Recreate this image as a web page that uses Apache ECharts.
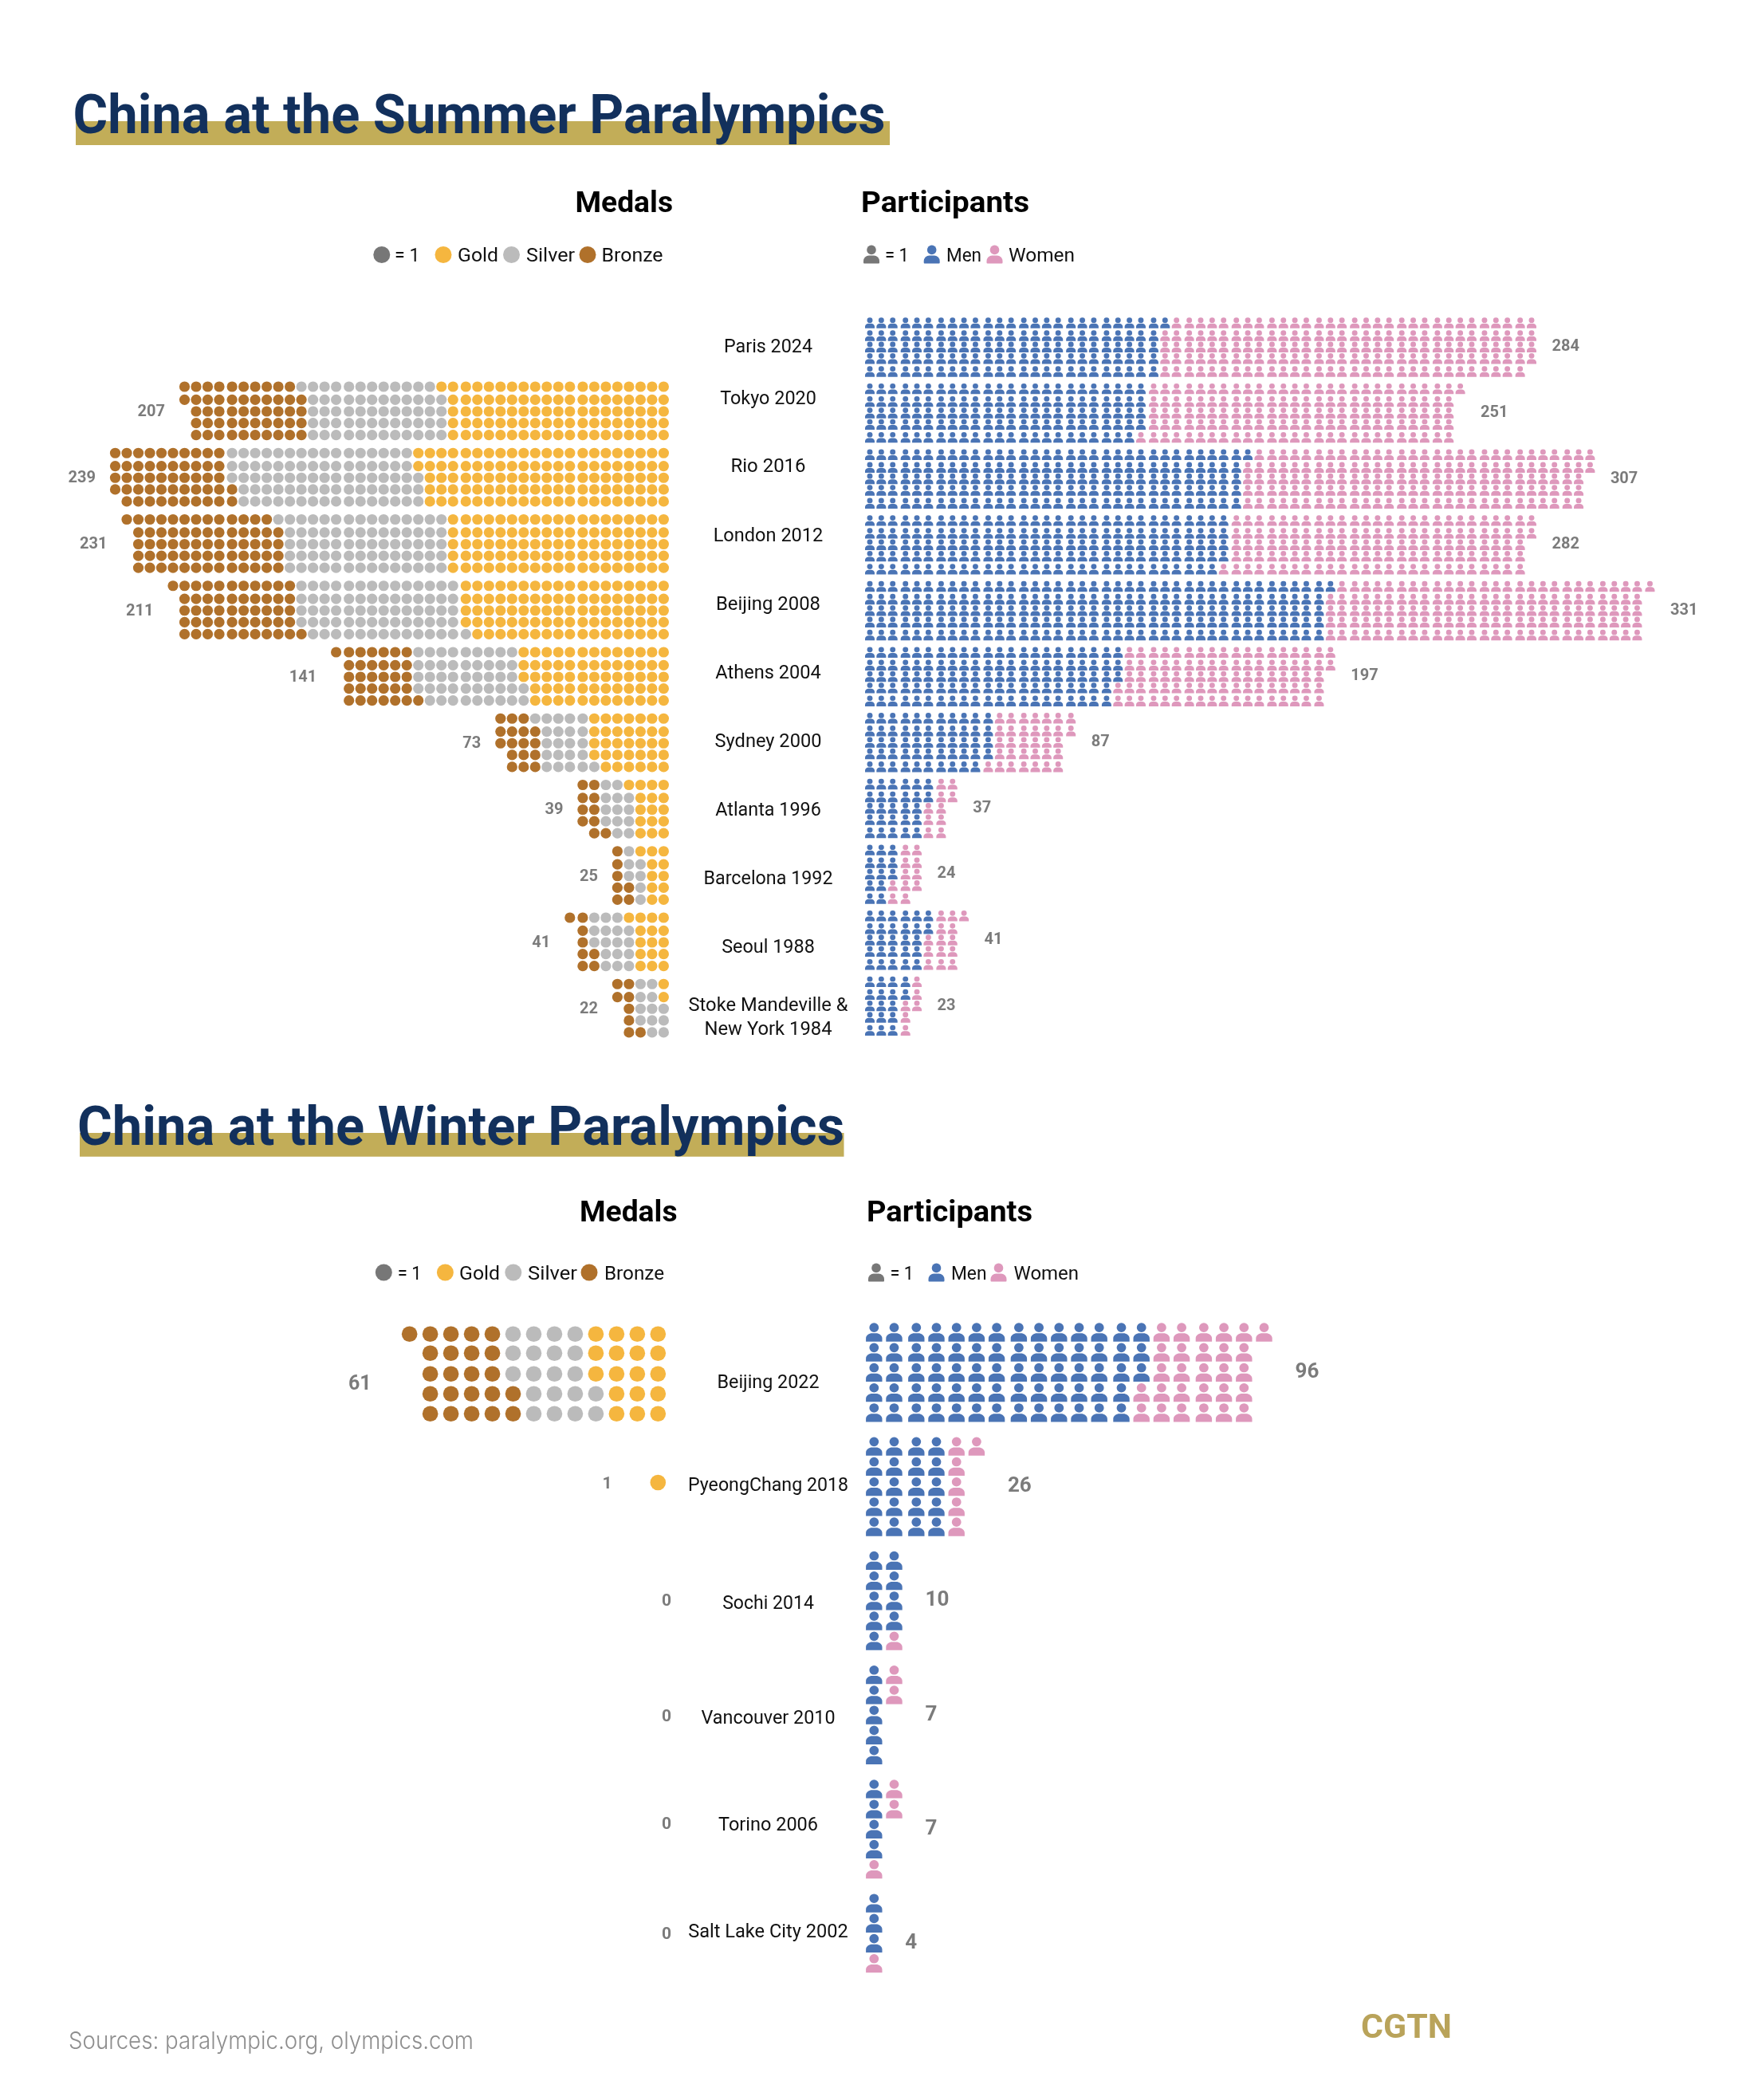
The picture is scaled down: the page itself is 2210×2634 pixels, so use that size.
<!DOCTYPE html>
<html><head><meta charset="utf-8"><title>China at the Paralympics</title>
<style>html,body{margin:0;padding:0;background:#fff}#c{width:2210px;height:2634px}</style>
<script src="https://cdn.jsdelivr.net/npm/echarts@6/dist/echarts.min.js"></script>
</head><body><div id="c"></div>
<script>
// ---------- data ----------
const summerGames = ['Paris 2024','Tokyo 2020','Rio 2016','London 2012','Beijing 2008','Athens 2004','Sydney 2000','Atlanta 1996','Barcelona 1992','Seoul 1988','Stoke Mandeville & New York 1984'];
const summerGold   = [0,96,107,95,89,63,34,16,11,16,2];
const summerSilver = [0,60,81,71,70,46,22,13,7,17,12];
const summerBronze = [0,51,51,65,52,32,17,10,7,8,8];
const summerMedalTotals = [null,207,239,231,211,141,73,39,25,41,22];
const summerMen   = [126,119,161,154,196,108,54,27,13,27,17];
const summerWomen = [158,132,146,128,135,89,33,10,11,14,6];
const summerPartTotals = [284,251,307,282,331,197,87,37,24,41,23];

const winterGames = ['Beijing 2022','PyeongChang 2018','Sochi 2014','Vancouver 2010','Torino 2006','Salt Lake City 2002'];
const winterGold   = [18,1,0,0,0,0];
const winterSilver = [20,0,0,0,0,0];
const winterBronze = [23,0,0,0,0,0];
const winterMedalTotals = [61,1,0,0,0,0];
const winterMen   = [68,20,9,5,4,3];
const winterWomen = [28,6,1,2,3,1];
const winterPartTotals = [96,26,10,7,7,4];

const medalLegend = ['Gold','Silver','Bronze'];
const partLegend = ['Men','Women'];

// ---------- layout & style ----------
const C = {gold:'#F5B63F',silver:'#BBBBBB',bronze:'#B0712B',men:'#4A74B5',women:'#DE98BC',key:'#777777',
  num:'#5A5A5A',title:'#12305C',bar:'#C2AD58',cgtn:'#B9A35A',src:'#8E8E8E',text:'#111111'};
const FONT='Roboto';
const PERSON='path://M10 0a5.8 5.8 0 1 0 0 11.6a5.8 5.8 0 1 0 0-11.6z M0 23.3L0 19.5C0 15.5 4 13 7.5 13L12.5 13C16 13 20 15.5 20 19.5L20 23.3z';

const P = {
  sm:{left:832.4,pitch:14.5,extra:1.6,o:2,per:10,top:401.75,rowH:15,cat:5.55,rows:[0,1.087,2.067,3.047,4.047],size:13.2},
  sp:{left:1091,pitch:14.35,extra:1.65,o:1,per:3.5,top:405,rowH:15,cat:5.509,rows:[0,1.067,2.02,2.98,4.067],size:[12,13.4]},
  wm:{left:825.3,pitch:25.97,extra:0,o:0,per:10,top:1673.3,rowH:25,cat:5.728,rows:[0,0.96,2,3,4],size:19.6},
  wp:{left:1096.3,pitch:25.2,extra:2.6,o:2.67,per:4.66,top:1671,rowH:25.2,cat:5.683,rows:[0,1,2,3,4],size:[20.4,23.3]}
};
const colPos=(p,c)=>c+Math.floor((c+p.o)/p.per)*p.extra/p.pitch;
const slotY=(p,cat,row)=>cat*p.cat+p.rows[row];

// expand stacked counts column by column, top to bottom
function expand(p,groups,shift){
  const out=groups.map(()=>[]);
  const n=groups[0].length;
  for(let cat=0;cat<n;cat++){
    let k=0;
    groups.forEach((g,gi)=>{
      for(let i=0;i<g[cat];i++,k++){
        const col=Math.floor(k/5),row=k%5;
        out[gi].push([colPos(p,col),slotY(p,cat,row)+((shift&&shift[cat])||0)]);
      }
    });
  }
  return out;
}

const grids=[],xAxes=[],yAxes=[],series=[];
function panel(p,inverse,maxCol,maxRow){
  const idx=grids.length;
  if(inverse) grids.push({left:p.left+p.pitch-(maxCol+1)*p.pitch,top:p.top-p.rowH,width:(maxCol+1)*p.pitch,height:(maxRow+1)*p.rowH});
  else grids.push({left:p.left-p.pitch,top:p.top-p.rowH,width:(maxCol+1)*p.pitch,height:(maxRow+1)*p.rowH});
  xAxes.push({type:'value',gridIndex:idx,min:-1,max:maxCol,inverse:inverse,show:false});
  yAxes.push({type:'value',gridIndex:idx,min:-1,max:maxRow,inverse:true,show:false});
  return idx;
}
function marks(idx,name,data,color,symbol,size){
  series.push({type:'scatter',name,xAxisIndex:idx,yAxisIndex:idx,data,symbol,symbolSize:size,clip:false,silent:true,
    itemStyle:{color,opacity:1},emphasis:{disabled:true}});
}
function numbers(idx,data,pos,dist,size,w){
  series.push({type:'scatter',name:'totals',xAxisIndex:idx,yAxisIndex:idx,data,symbol:'circle',symbolSize:w,clip:false,silent:true,
    itemStyle:{color:'rgba(0,0,0,0)'},
    label:{show:true,position:pos,distance:dist,formatter:q=>String(q.value[2]),fontFamily:FONT,fontWeight:'bold',fontSize:size,color:C.num}});
}

// summer medals
let g=panel(P.sm,true,55,60);
expand(P.sm,[summerGold,summerSilver,summerBronze]).forEach((d,i)=>marks(g,medalLegend[i],d,[C.gold,C.silver,C.bronze][i],'circle',P.sm.size));
numbers(g,summerMedalTotals.map((t,i)=>t==null?null:[colPos(P.sm,Math.ceil(t/5)-1),slotY(P.sm,i,2)+0.05,t]).filter(Boolean),'left',18,20,13);

// summer participants
g=panel(P.sp,false,75,60);
expand(P.sp,[summerMen,summerWomen]).forEach((d,i)=>marks(g,partLegend[i],d,[C.men,C.women][i],PERSON,P.sp.size));
numbers(g,summerPartTotals.map((t,i)=>[colPos(P.sp,Math.ceil(t/5)-1),slotY(P.sp,i,2),t]),'right',19.5,20,12);

// winter medals
const wmShift=[0,1.72,0,0,0,0];
const wmLabelCol=[14.4,2.46,-0.41,-0.41,-0.41,-0.41];
const wmLabelRow=[2.52,1.8,1.97,2.04,1.7,1.48];
const wmLabelSize=[25,21,21,21,21,21];
g=panel(P.wm,true,20,30);
expand(P.wm,[winterGold,winterSilver,winterBronze],wmShift).forEach((d,i)=>marks(g,medalLegend[i],d,[C.gold,C.silver,C.bronze][i],'circle',P.wm.size));
winterMedalTotals.forEach((t,i)=>numbers(g,[[wmLabelCol[i],i*P.wm.cat+wmLabelRow[i],t]],'inside',0,wmLabelSize[i],0));

// winter participants
g=panel(P.wp,false,30,30);
expand(P.wp,[winterMen,winterWomen]).forEach((d,i)=>marks(g,partLegend[i],d,[C.men,C.women][i],PERSON,P.wp.size));
numbers(g,winterPartTotals.map((t,i)=>[colPos(P.wp,Math.ceil(t/5)-1),slotY(P.wp,i,2),t]),'right',29,26,20);

// ---------- text & keys ----------
const ctx=document.createElement('canvas').getContext('2d');
function txt(s,x,y,w,size,weight,fill,family){
  const fam=family||FONT;
  ctx.font=`${weight} ${size}px "${fam}"`;
  const m=ctx.measureText(s).width;
  return {type:'text',x,y,scaleX:w?w/m:1,z:10,silent:true,
    style:{text:s,fontFamily:fam,fontSize:size,fontWeight:weight,fill,align:'left',verticalAlign:'middle'}};
}
function center(s,cx,y,w,size,weight,fill){return txt(s,cx-w/2,y,w,size,weight,fill);}
const dot=(cx,cy,fill)=>({type:'circle',shape:{cx,cy,r:10.5},style:{fill},silent:true});
const man=(cx,cy,fill)=>({type:'group',silent:true,children:[
  {type:'circle',shape:{cx,cy:cy-5.6,r:5.8},style:{fill}},
  {type:'rect',shape:{x:cx-10,y:cy+1.5,width:20,height:10,r:[7,7,1,1]},style:{fill}}
]});
const rect=(x,y,w,h,fill)=>({type:'rect',shape:{x,y,width:w,height:h},style:{fill},silent:true,z:1});

const els=[];
const TY=7, HY=5, LY=2;
// titles
els.push(rect(95,152,1021,30,C.bar),txt('China at the Summer Paralympics',91.5,143+TY,1019,68,'bold',C.title));
els.push(rect(100,1421,958.5,29.7,C.bar),txt('China at the Winter Paralympics',97,1412+TY,962,68,'bold',C.title));
// column headers
els.push(txt('Medals',721.5,252+HY,122.5,37,'bold','#000'),txt('Participants',1080,252+HY,211,37,'bold','#000'));
els.push(txt('Medals',727,1518+HY,122.5,37,'bold','#000'),txt('Participants',1087,1518+HY,208,37,'bold','#000'));
// summer key
els.push(dot(478.8,319.5,C.key),txt('= 1',495,320+LY,31.5,24,'normal',C.text),
  dot(556,319.5,C.gold),txt(medalLegend[0],574,320+LY,51,24,'normal',C.text),
  dot(641.5,319.5,C.silver),txt(medalLegend[1],660,320+LY,61,24,'normal',C.text),
  dot(737,319.5,C.bronze),txt(medalLegend[2],754.5,320+LY,77,24,'normal',C.text),
  man(1093,319,C.key),txt('= 1',1110,320+LY,30,24,'normal',C.text),
  man(1168.7,319,C.men),txt(partLegend[0],1187,320+LY,44,24,'normal',C.text),
  man(1247.5,319,C.women),txt(partLegend[1],1265,320+LY,83,24,'normal',C.text));
// winter key
els.push(dot(481.3,1596,C.key),txt('= 1',498.7,1597+LY,30,24,'normal',C.text),
  dot(558.4,1596,C.gold),txt(medalLegend[0],576,1597+LY,51,24,'normal',C.text),
  dot(643.8,1596,C.silver),txt(medalLegend[1],662,1597+LY,62,24,'normal',C.text),
  dot(739,1596,C.bronze),txt(medalLegend[2],758,1597+LY,75,24,'normal',C.text),
  man(1099,1596,C.key),txt('= 1',1116.5,1597+LY,29.5,24,'normal',C.text),
  man(1174.5,1596,C.men),txt(partLegend[0],1193,1597+LY,44.5,24,'normal',C.text),
  man(1252.5,1596,C.women),txt(partLegend[1],1271.5,1597+LY,81.5,24,'normal',C.text));
// game labels
const summerLabelY=[434.3,499,584.3,670.7,757,843,928.5,1015,1100.7,1186.7];
const summerLabelW=[111,120.6,94,137.7,131,132.6,134,132.6,162,116.6];
summerGames.slice(0,10).forEach((s,i)=>els.push(center(s,963.5,summerLabelY[i]+LY,summerLabelW[i],24,'normal',C.text)));
els.push(center('Stoke Mandeville &',963.5,1260+LY,200,24,'normal',C.text),center('New York 1984',963.5,1290+LY,160,24,'normal',C.text));
const winterLabelY=[1733,1861.7,2010,2154,2288,2421.8];
const winterLabelW=[128,201,114.7,168,125,200.7];
winterGames.forEach((s,i)=>els.push(center(s,963.5,winterLabelY[i]+LY,winterLabelW[i],24,'normal',C.text)));
// footer
els.push(txt('Sources: paralympic.org, olympics.com',86,2561,508,30,300,C.src,'Inter'));
els.push(txt('CGTN',1707,2545,114,42,'bold',C.cgtn));

const chart=echarts.init(document.getElementById('c'),null,{renderer:'canvas'});
chart.setOption({animation:false,backgroundColor:'#fff',tooltip:{show:false},
  grid:grids,xAxis:xAxes,yAxis:yAxes,series,graphic:{elements:els}});
</script></body></html>
